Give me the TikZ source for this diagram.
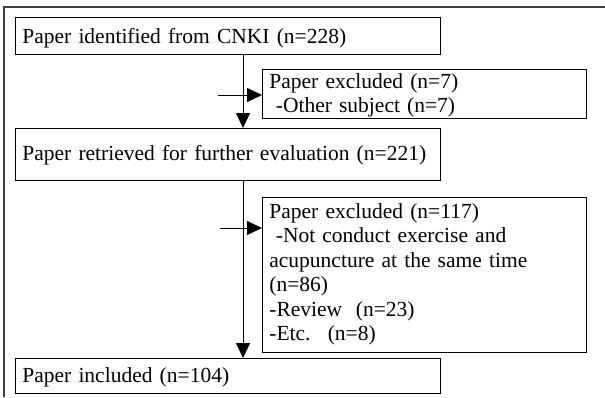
\documentclass[tikz,border=0pt]{standalone}
\usepackage{fontspec}
\setmainfont{Liberation Serif}[WordSpace=2.6]
\usetikzlibrary{arrows.meta}
\tikzset{
  x=1pt, y=-1pt,
  boxnode/.style={draw=black, line width=0.8pt, anchor=north west, inner xsep=7pt, inner ysep=0pt,
    align=left, font=\fontsize{21.5}{24.5}\selectfont},
  flowarrow/.style={draw=black, line width=0.8pt, -{Triangle[length=15pt,width=14pt]}},
  frameline/.style={draw=black!75, line width=1.3pt}
}
\begin{document}
\begin{tikzpicture}
\useasboundingbox (0,0) rectangle (605,397);
% outer frame (cropped: open at right and bottom)
\draw[frameline] (4,397) -- (4,7) -- (605,7);
% boxes
\node[boxnode, text width=411pt, text height=26pt, text depth=11pt] (b1) at (15,17)
  {Paper identified from CNKI (n=228)};
\node[boxnode, text width=310pt, text height=19pt, text depth=30pt] (b2) at (262,69)
  {Paper excluded (n=7)\\\hspace{0.3em}-Other subject (n=7)};
\node[boxnode, text width=411pt, text height=32pt, text depth=20pt] (b3) at (15,128)
  {Paper retrieved for further evaluation (n=221)};
\node[boxnode, text width=310pt, text height=21pt, text depth=134pt] (b4) at (262,197)
  {Paper excluded (n=117)\\\hspace{0.3em}-Not conduct exercise and\\acupuncture at the same time\\(n=86)\\-Review\hspace{0.3em} (n=23)\\-Etc.\hspace{0.3em} (n=8)};
\node[boxnode, text width=411pt, text height=24pt, text depth=11pt] (b5) at (15,358)
  {Paper included (n=104)};
% connectors
\coordinate (vx) at (243,0);
\coordinate (h1) at (218,95);
\coordinate (h2) at (220,228);
\draw[flowarrow] (b1.south -| vx) -- (b3.north -| vx);
\draw[flowarrow] (h1) -- (b2.west |- h1);
\draw[flowarrow] (b3.south -| vx) -- (b5.north -| vx);
\draw[flowarrow] (h2) -- (b4.west |- h2);
\end{tikzpicture}
\end{document}
